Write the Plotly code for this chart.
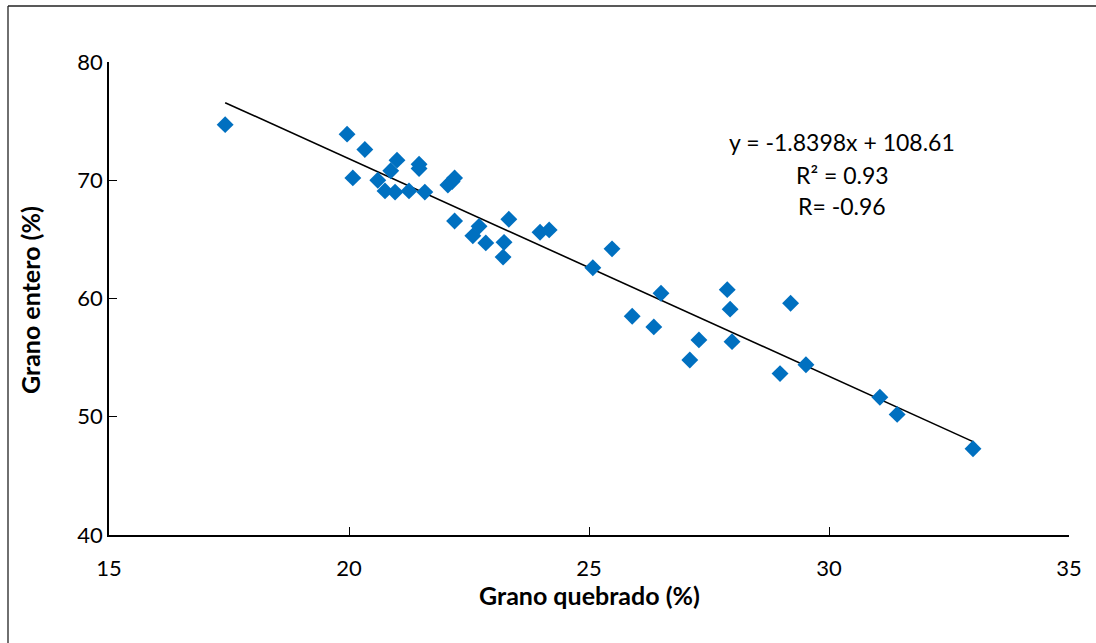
import plotly.graph_objects as go

# Data
grano_quebrado = [17.42, 19.96, 20.08, 20.33, 21.0, 20.6, 20.87, 20.75, 20.96, 21.25,
                  21.46, 21.46, 21.58, 22.06, 22.15, 22.2, 22.2, 22.58, 22.71, 22.85,
                  23.23, 23.21, 23.33, 23.98, 24.17, 25.08, 25.48, 25.9, 26.35, 26.5,
                  27.1, 27.29, 27.88, 27.94, 27.98, 28.98, 29.2, 29.52, 31.06, 31.42, 33.0]
grano_entero = [74.7, 73.9, 70.2, 72.6, 71.7, 70.0, 70.8, 69.1, 69.0, 69.1,
                71.35, 71.0, 69.0, 69.6, 69.9, 70.2, 66.55, 65.3, 66.1, 64.7,
                64.75, 63.5, 66.7, 65.6, 65.8, 62.6, 64.2, 58.5, 57.6, 60.45,
                54.8, 56.5, 60.75, 59.1, 56.35, 53.65, 59.6, 54.4, 51.65, 50.2, 47.3]

slope = -1.8398
intercept = 108.61
equation_lines = ["y = -1.8398x + 108.61", "R² = 0.93", "R= -0.96"]

x_ticks = [15, 20, 25, 30, 35]
y_ticks = [40, 50, 60, 70, 80]

x_title = "Grano quebrado (%)"
y_title = "Grano entero (%)"

FONT = "Lato"

fig = go.Figure()

x_min, x_max = min(grano_quebrado), max(grano_quebrado)
fig.add_trace(go.Scatter(
    x=[x_min, x_max],
    y=[slope * x_min + intercept, slope * x_max + intercept],
    mode="lines",
    line=dict(color="black", width=1.6),
    showlegend=False, hoverinfo="skip",
))

fig.add_trace(go.Scatter(
    x=grano_quebrado, y=grano_entero,
    mode="markers",
    marker=dict(symbol="diamond", size=13, color="#0070C0"),
    showlegend=False,
))

# Regression text
eq_y = [73.25, 70.45, 67.85]
for txt, yy in zip(equation_lines, eq_y):
    fig.add_annotation(x=30.28, y=yy, xref="x", yref="y", text=txt,
                       showarrow=False, xanchor="center", yanchor="middle",
                       font=dict(family=FONT, size=23, color="black"))

# Axis titles
fig.add_annotation(x=0.5, y=(535 - 595) / 473, xref="paper", yref="paper",
                   text="<b>" + x_title + "</b>", showarrow=False,
                   xanchor="center", yanchor="middle",
                   font=dict(family=FONT, size=25, color="black"))
fig.add_annotation(x=(30 - 109) / 960, y=(535 - 300) / 473, xref="paper", yref="paper",
                   text="<b>" + y_title + "</b>", showarrow=False, textangle=-90,
                   xanchor="center", yanchor="middle",
                   font=dict(family=FONT, size=25, color="black"))

# Chart-area border: top and left edges only (cropped at right/bottom in reference)
bx0 = (8 - 109) / 960
bx1 = (1140 - 109) / 960
by_top = 1 + (62 - 6) / 473
by_bot = (535 - 700) / 473
fig.add_shape(type="line", xref="paper", yref="paper",
              x0=bx0, x1=bx1, y0=by_top, y1=by_top,
              line=dict(color="#222222", width=1.3))
fig.add_shape(type="line", xref="paper", yref="paper",
              x0=bx0, x1=bx0, y0=by_bot, y1=by_top,
              line=dict(color="#222222", width=1.3))

fig.update_layout(
    width=1096, height=643,
    margin=dict(l=109, r=27, t=62, b=108),
    paper_bgcolor="white", plot_bgcolor="white",
    font=dict(family=FONT, size=22, color="black"),
    showlegend=False,
)

fig.update_xaxes(
    range=[15, 35], tickvals=x_ticks, ticktext=[str(v) for v in x_ticks],
    showgrid=False, zeroline=False,
    showline=True, linecolor="black", linewidth=1.5,
    ticks="inside", ticklen=8, tickwidth=1.2, tickcolor="black",
    ticklabelstandoff=13,
    tickfont=dict(family=FONT, size=22),
)
fig.update_yaxes(
    range=[40, 80], tickvals=y_ticks, ticktext=[str(v) for v in y_ticks],
    showgrid=False, zeroline=False,
    showline=True, linecolor="black", linewidth=1.5,
    ticks="inside", ticklen=8, tickwidth=1.2, tickcolor="black",
    ticklabelstandoff=0,
    tickfont=dict(family=FONT, size=22),
)

fig.write_html("out.html")
